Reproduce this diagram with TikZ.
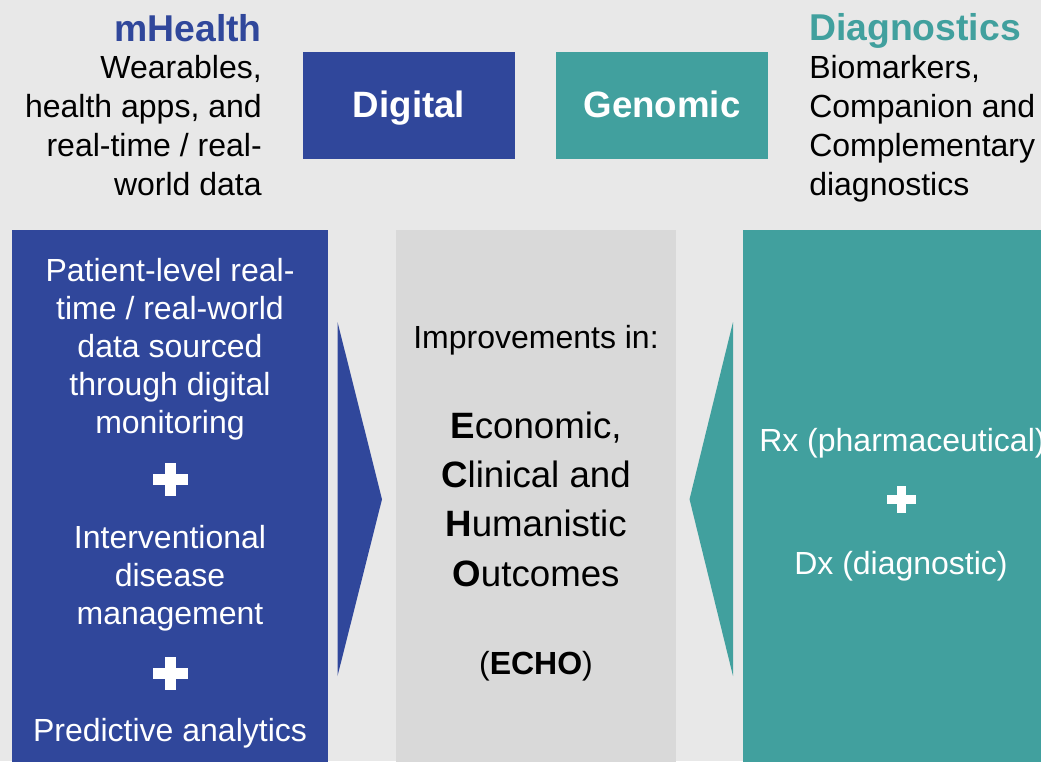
\documentclass[tikz,border=0pt]{standalone}
\usepackage{fontspec}
\setmainfont{Liberation Sans}
\usetikzlibrary{calc}
\definecolor{dblue}{RGB}{48,71,155}
\definecolor{gteal}{RGB}{65,160,158}
\definecolor{bggray}{RGB}{232,232,232}
\definecolor{midgray}{RGB}{217,217,217}

\begin{document}
\begin{tikzpicture}[x=0.75pt,y=-0.75pt,
	col/.style={anchor=north west,inner sep=0pt,minimum height=405pt},
	tag/.style={inner sep=0pt,minimum width=159pt,minimum height=80.25pt,text height=24.5pt,text depth=5.8pt,text=white,font=\fontsize{27.5}{33}\selectfont\bfseries},
	body/.style={inner sep=0pt,font=\fontsize{24}{29.25}\selectfont},
	coltxt/.style={inner sep=0pt,align=center,text=white,font=\fontsize{24}{28.5}\selectfont},
	pics/plus/.style={code={
		\fill[white] (-17.5,-5.5) rectangle (17.5,5.5);
		\fill[white] (-5.5,-16.5) rectangle (5.5,16.5);}}]
	\fill[bggray] (0,0) rectangle (1041,761);
	\useasboundingbox (0,0) rectangle (1041,761);
	% columns
	\node[col,fill=dblue,minimum width=237pt] (c_l) at (12,230) {};
	\node[col,fill=midgray,minimum width=210pt] (c_m) at (396,230) {};
	\node[col,fill=gteal,minimum width=240pt] (c_r) at (743,230) {};
	\fill[dblue] ($(c_l.north east)+(9,92)$) -- ($(c_m.west)+(-14,-1)$) -- ($(c_l.north east)+(9,446)$) -- cycle;
	\fill[gteal] ($(c_r.north west)+(-10,92)$) -- ($(c_m.east)+(13,-1)$) -- ($(c_r.north west)+(-10,446)$) -- cycle;
	% top row
	\node[body,text=dblue,font=\fontsize{28}{33}\selectfont\bfseries,anchor=east] (m_title) at (262,28) {mHealth};
	\node[body,align=right,anchor=east] (m_text) at (262,125.5) {Wearables,\\health apps, and\\real-time / real-\\world data};
	\node[body,text=gteal,font=\fontsize{28}{33}\selectfont\bfseries,anchor=west] (d_title) at (809,31) {Diagnostics};
	\node[body,align=left,anchor=west] (d_text) at (809,128.5) {Biomarkers,\\Companion and\\Complementary\\diagnostics};
	\node[tag,fill=dblue] (digital) at (409,105.5) {Digital};
	\node[tag,fill=gteal] (genomic) at (662,105.5) {Genomic};
	% left column
	\node[coltxt] (l_data) at (170,349) {Patient-level real-\\time / real-world\\data sourced\\through digital\\monitoring};
	\pic at (170.5,479) {plus};
	\node[coltxt] (l_dis) at (170,578.5) {Interventional\\disease\\management};
	\pic at (170.5,673) {plus};
	\node[coltxt] (l_pred) at (170,733) {Predictive analytics};
	% middle column
	\node[body] (m_impr) at (536,340) {Improvements in:};
	\node[body,align=center,font=\fontsize{27.5}{37}\selectfont] (m_echo) at (536,499) {\textbf{E}conomic,\\\textbf{C}linical and\\\textbf{H}umanistic\\\textbf{O}utcomes};
	\node[body] (m_abbr) at (536,666) {(\textbf{ECHO})};
	% right column
	\node[coltxt,anchor=west] (r_rx) at (759,443) {Rx (pharmaceutical)};
	\pic[scale=0.83] at (901.5,499.5) {plus};
	\node[coltxt] (r_dx) at (901,566) {Dx (diagnostic)};
\end{tikzpicture}
\end{document}
